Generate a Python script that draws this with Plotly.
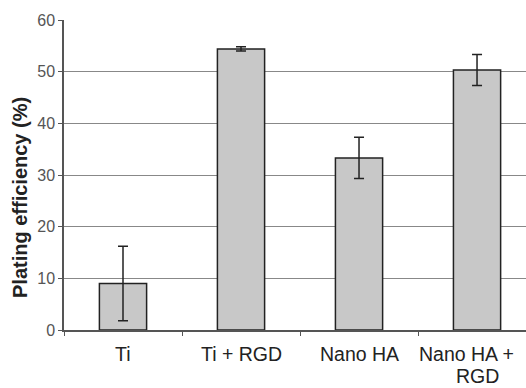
import plotly.graph_objects as go

categories = ["Ti", "Ti + RGD", "Nano HA", "Nano HA +\nRGD"]
values = [9.0, 54.4, 33.3, 50.3]
errors = [7.2, 0.4, 4.0, 3.0]
y_ticks = [0, 10, 20, 30, 40, 50, 60]
y_title = "Plating efficiency (%)"

FONT = "Liberation Sans, Arial, sans-serif"

fig = go.Figure()
fig.add_trace(go.Bar(
    x=categories, y=values,
    width=0.40,
    marker=dict(color="#c8c8c8", line=dict(color="#222222", width=1.5)),
    error_y=dict(type="data", array=errors, visible=True, color="#222222", thickness=1.5, width=5),
))

# category labels as annotations (tight line spacing like the original)
for i, cat in enumerate(categories):
    lines = cat.split("\n")
    for j, line in enumerate(lines):
        shift_x = -11 if (len(lines) > 1 and j == 0) else 0
        fig.add_annotation(
            x=cat, xref="x", y=0, yref="paper",
            text=line, showarrow=False,
            xanchor="center", yanchor="middle",
            yshift=-24 - 22 * j, xshift=shift_x,
            font=dict(family=FONT, size=19.5, color="#222222"),
        )

fig.add_annotation(
    x=0, xref="paper", y=(330 - 198) / 310, yref="paper",
    text="<b>" + y_title + "</b>", showarrow=False, textangle=-90,
    xanchor="center", yanchor="middle", xshift=-44,
    font=dict(family=FONT, size=20, color="#222222"),
)

fig.update_layout(
    width=526, height=388,
    margin=dict(l=64, r=0, t=20, b=58),
    paper_bgcolor="white", plot_bgcolor="white",
    showlegend=False,
    font=dict(family=FONT, color="#222222"),
    xaxis=dict(
        type="category", range=[-0.5, 3.415],
        tickson="boundaries", ticks="outside", ticklen=4, tickcolor="#555555",
        showline=True, linecolor="#555555", linewidth=1.5,
        showgrid=False, showticklabels=False,
    ),
    yaxis=dict(
        range=[0, 60], tickvals=y_ticks,
        ticks="outside", ticklen=4, tickcolor="#555555",
        showline=True, linecolor="#555555", linewidth=1.5,
        showgrid=True, gridcolor="#888888", gridwidth=1.2,
        tickfont=dict(family=FONT, size=16, color="#555555"),
        zeroline=False,
    ),
)
fig.write_html("out.html", config={"displayModeBar": False},
               post_script="document.body.style.margin='0';")
